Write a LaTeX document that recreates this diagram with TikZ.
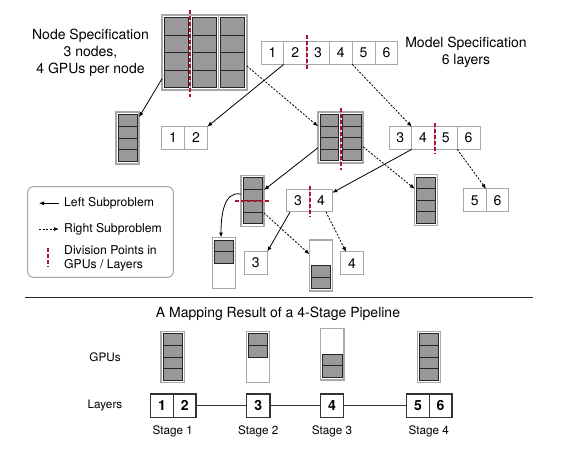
\documentclass[tikz,border=0pt]{standalone}
\usepackage{fontspec}
\setmainfont{TeX Gyre Heros}
\usetikzlibrary{calc,arrows.meta}
\definecolor{divred}{HTML}{B3122E}
\definecolor{gpugray}{HTML}{999999}
\definecolor{boxgray}{HTML}{A8A8A8}
\tikzset{
  colbox/.style={draw=boxgray, line width=1.3pt, fill=white, inner sep=0pt, outer sep=0pt},
  gpu/.style={draw=black!85, line width=0.9pt, fill=gpugray},
  cell/.style={draw=boxgray, line width=1pt, fill=white, inner sep=0pt, outer sep=0pt,
    minimum height=22.7pt, font=\fontsize{14}{16}\selectfont},
  boldcell/.style={draw=black!80, line width=1.4pt, fill=white, inner sep=0pt, outer sep=0pt,
    minimum height=23.3pt, font=\fontsize{14}{16}\selectfont\bfseries},
  leftarr/.style={-{Latex[length=5pt,width=4pt]}, line width=0.8pt, black},
  rightarr/.style={-{Latex[length=5pt,width=4pt]}, line width=0.8pt, black, dash pattern=on 2pt off 1.5pt},
  divline/.style={draw=divred, line width=2pt, dash pattern=on 4pt off 2pt},
  biglabel/.style={font=\fontsize{14}{17}\selectfont, align=center, inner sep=0pt},
  leglabel/.style={font=\fontsize{12.2}{14}\selectfont, anchor=west, inner sep=0pt},
  smalllabel/.style={font=\fontsize{11.7}{14}\selectfont, inner sep=0pt},
}
% name, center x, center y, width, height, list of filled slots (0..3)
\newcommand\gpucol[6]{%
  \node[colbox, minimum width=#4pt, minimum height=#5pt] (#1) at (#2,#3) {};
  \pgfmathsetmacro\gpuh{(#5-5)/4}%
  \foreach \k in {#6} {%
    \pgfmathsetmacro\gpuy{2.5+\k*\gpuh}%
    \draw[gpu] ($(#1.north west)+(2,\gpuy)$) rectangle ++(#4-4,\gpuh);
  }%
}
% style, prefix, left x, center y, cell width, labels
\newcommand\cellrow[6]{%
  \foreach \lab [count=\i from 0] in {#6} {%
    \node[#1, minimum width=#5pt] (#2\lab) at ({#3+#5/2+\i*#5},#4) {\lab};
  }%
}
\begin{document}
\begin{tikzpicture}[x=1pt,y=-1pt]
\useasboundingbox (0,0) rectangle (571,458);
\fill[white] (0,0) rectangle (571,458);

% ---- top: node specification
\gpucol{T1}{176.15}{52.5}{28.3}{75}{0,1,2,3}
\gpucol{T2}{204.45}{52.5}{28.3}{75}{0,1,2,3}
\gpucol{T3}{232.75}{52.5}{28.3}{75}{0,1,2,3}
\node[biglabel] (nodespec) at (90.5,53) {Node Specification\\3 nodes,\\4 GPUs per node};

% ---- top: model specification
\cellrow{cell}{top}{261}{53}{22.8}{1,2,3,4,5,6}
\node[biglabel] (modelspec) at (466,52) {Model Specification\\6 layers};

% ---- second level
\gpucol{S1}{127.5}{138}{23}{52}{0,1,2,3}
\cellrow{cell}{a}{161.7}{138}{22.8}{1,2}
\gpucol{M1}{329.25}{137.5}{22.5}{51}{0,1,2,3}
\gpucol{M2}{351.75}{137.5}{22.5}{51}{0,1,2,3}
\cellrow{cell}{b}{389}{138}{22.75}{3,4,5,6}

% ---- third level
\gpucol{C1}{252.5}{200.75}{23}{51}{0,1,2,3}
\cellrow{cell}{c}{286.7}{200.5}{22.8}{3,4}
\gpucol{R1}{426}{200}{22.5}{51}{0,1,2,3}
\cellrow{cell}{d}{463.3}{200.3}{22.8}{5,6}

% ---- fourth level
\gpucol{D1}{224}{263}{23}{51}{0,1}
\cellrow{cell}{e}{244.3}{263}{23}{3}
\gpucol{D2}{321}{265.5}{23}{51}{2,3}
\cellrow{cell}{f}{340.7}{263.3}{22.7}{4}

% ---- connectors
\draw[leftarr] ($(T1.south west)!0.15!(T1.north west)$) -- ($(S1.north east)!0.1!(S1.south east)$);
\draw[leftarr] (top2.south west) -- (a2.north east);
\draw[rightarr] ($(T3.north east)!0.68!(T3.south east)$) -- ($(M1.north west)!0.28!(M1.south west)$);
\draw[rightarr] (top4.south east) -- (b3.north east);
\draw[leftarr] ($(M1.north west)!0.7!(M1.south west)$) -- ($(C1.north east)!0.29!(C1.south east)$);
\draw[rightarr] ($(M2.north east)!0.68!(M2.south east)$) -- ($(R1.north west)!0.28!(R1.south west)$);
\draw[leftarr] (b4.south west) -- ($(c4.north east)!0.16!(c4.south east)$);
\draw[rightarr] (b6.south west) -- (d6.north west);
\draw[leftarr] ($(C1.north west)!0.37!(C1.south west)$) to[out=168,in=90] ($(D1.north)+(-3,0)$);
\draw[rightarr] ($(C1.north east)!0.74!(C1.south east)$) -- ($(D2.north west)!0.28!(D2.south west)$);
\draw[leftarr] ($(c3.south west)!0.15!(c3.south east)$) -- (e3.north east);
\draw[rightarr] ($(c4.south west)!0.72!(c4.south east)$) -- ($(f4.north west)!0.24!(f4.north east)$);

% ---- division points
\draw[divline] ($(T1.north east)+(0,-5)$) -- ($(T1.south east)+(0,7)$);
\draw[divline] ($(top2.north east)+(0,-6.5)$) -- ($(top2.south east)+(0,6.5)$);
\draw[divline] ($(M1.north east)+(0,-4)$) -- ($(M1.south east)+(0,7)$);
\draw[divline] ($(b4.north east)+(0,-4)$) -- ($(b4.south east)+(0,4)$);
\draw[divline] ($(c3.north east)+(0,-3.5)$) -- ($(c3.south east)+(0,4)$);
\draw[divline] ($(C1.west)+(-6,0)$) -- ($(C1.east)+(7,0)$);

% ---- legend
\node[draw=boxgray, line width=1pt, rounded corners=5pt, minimum width=145.6pt, minimum height=90.6pt,
  inner sep=0pt] (legend) at (100.5,232) {};
\coordinate (lA1) at (59,203.3); \coordinate (lA2) at (39,203.3);
\coordinate (lB1) at (39,229); \coordinate (lB2) at (59,229);
\coordinate (lC1) at (48.3,248); \coordinate (lC2) at (48.3,267);
\draw[leftarr] (lA1) -- (lA2);
\draw[rightarr] (lB1) -- (lB2);
\draw[divline] (lC1) -- (lC2);
\node[leglabel] (legA) at (64,203.3) {Left Subproblem};
\node[leglabel] (legB) at (64,229) {Right Subproblem};
\node[leglabel] (legC) at (64,250) {Division Points in};
\node[leglabel] (legD) at (64,265.5) {GPUs / Layers};

% ---- separator
\coordinate (sepL) at (25,297.3); \coordinate (sepR) at (533,297.3);
\draw[line width=1pt, black!85] (sepL) -- (sepR);

% ---- bottom: mapping result
\node[biglabel] (title) at (278,314) {A Mapping Result of a 4-Stage Pipeline};
\node[smalllabel] (gpus) at (105,357) {GPUs};
\node[smalllabel] (layers) at (105,406) {Layers};

\gpucol{B1}{172.7}{357}{23.3}{51.5}{0,1,2,3}
\gpucol{B2}{258}{357}{23.3}{51.5}{0,1}
\gpucol{B3}{332.3}{354.2}{23.3}{51.5}{2,3}
\gpucol{B4}{429}{357}{23.3}{51.5}{0,1,2,3}

\cellrow{boldcell}{g}{150.7}{405.7}{22.7}{1,2}
\cellrow{boldcell}{g}{246.7}{405.7}{23.3}{3}
\cellrow{boldcell}{g}{320.7}{405.7}{22.7}{4}
\cellrow{boldcell}{g}{406.7}{405.7}{22.6}{5,6}
\draw[line width=0.9pt, black!80] (g2.east) -- (g3.west);
\draw[line width=0.9pt, black!80] (g3.east) -- (g4.west);
\draw[line width=0.9pt, black!80] (g4.east) -- (g5.west);

\node[smalllabel] (st1) at (172.7,431) {Stage 1};
\node[smalllabel] (st2) at (258.3,431) {Stage 2};
\node[smalllabel] (st3) at (332,431) {Stage 3};
\node[smalllabel] (st4) at (428.8,431) {Stage 4};
\end{tikzpicture}
\end{document}
